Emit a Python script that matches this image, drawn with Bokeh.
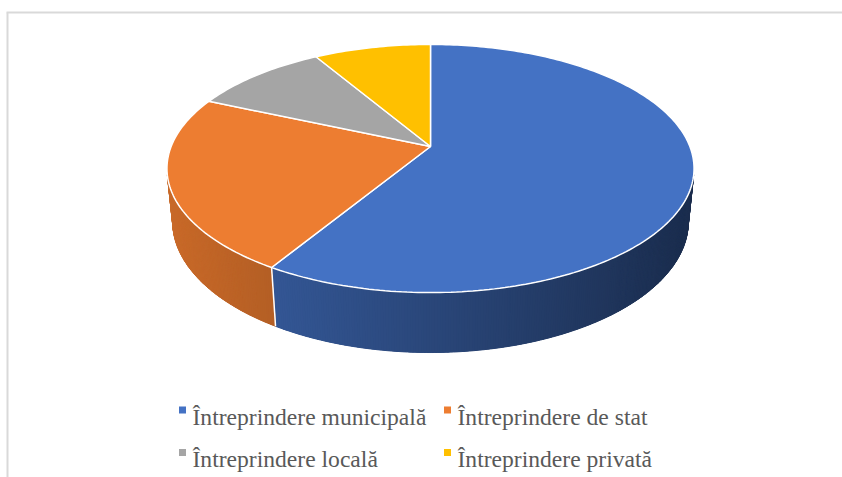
import numpy as np
from bokeh.plotting import figure
from bokeh.models import Range1d, ColumnDataSource
from bokeh.embed import file_html
from bokeh.resources import INLINE
from bokeh.core.properties import value

# ---- data ----
categories = ["Întreprindere municipală", "Întreprindere de stat",
              "Întreprindere locală", "Întreprindere privată"]
shares = [58.7, 22.9, 9.9, 8.5]
colors = ["#4472C4", "#ED7D31", "#A5A5A5", "#FFC000"]

W, H = 842, 477

# ---- perspective projection of a 3D disk (pixel space) ----
elev = np.radians(27.6)
S, C = np.sin(elev), np.cos(elev)
D = 4.995
F = 1295.5
HT = 0.234
CX, CY = 430.0, 146.0


def proj(phi, y):
    x3 = np.sin(phi)
    z3 = np.cos(phi)
    depth = D + z3 * C - y * S
    sx = CX + F * x3 / depth
    sy = CY - F * (y * C + z3 * S) / depth
    return sx, sy


def hex2rgb(h):
    h = h.lstrip("#")
    return tuple(int(h[i:i + 2], 16) for i in (0, 2, 4))


def shade(hexcol, f):
    r, g, b = hex2rgb(hexcol)
    return "#%02x%02x%02x" % (int(r * f), int(g * f), int(b * f))


total = float(sum(shares))
cum = np.concatenate([[0.0], np.cumsum(shares)]) / total * 2 * np.pi

p = figure(width=W, height=H, x_range=Range1d(0, W), y_range=Range1d(H, 0),
           output_backend="svg", toolbar_location=None, min_border=0)
p.axis.visible = False
p.grid.visible = False
p.outline_line_color = None
p.background_fill_color = "white"
p.border_fill_color = "white"

# chart-area frame
p.line([7, 7], [H, 12], line_color="#d9d9d9", line_width=2)
p.line([6, W], [12, 12], line_color="#d9d9d9", line_width=2)

# ---- side walls ----
phi_v0 = np.arccos(-1.0 / (D * C))
phi_v1 = 2 * np.pi - phi_v0
sx_l, sx_r = 166.0, 693.0
base_xs, base_ys, base_cols = [], [], []
side_xs, side_ys, side_cols = [], [], []
for i in range(len(shares)):
    a0 = max(cum[i], phi_v0)
    a1 = min(cum[i + 1], phi_v1)
    if a1 <= a0:
        continue
    n = max(2, int(np.degrees(a1 - a0) / 0.5))
    ph = np.linspace(a0, a1, n + 1)
    txs, tys = proj(ph, 0.0)
    bxs, bys = proj(ph, -HT)
    fm = 0.85 - 0.45 * (np.mean(txs) - sx_l) / (sx_r - sx_l)
    base_xs.append(list(txs) + list(bxs[::-1]))
    base_ys.append(list(tys) + list(bys[::-1]))
    base_cols.append(shade(colors[i], fm))
    for k in range(n):
        xm = 0.5 * (txs[k] + txs[k + 1])
        f = 0.85 - 0.45 * (xm - sx_l) / (sx_r - sx_l)
        col = shade(colors[i], f)
        side_xs.append([txs[k], txs[k + 1], bxs[k + 1], bxs[k]])
        side_ys.append([tys[k], tys[k + 1], bys[k + 1], bys[k]])
        side_cols.append(col)

p.patches(xs="xs", ys="ys", fill_color="c", line_color=None,
          source=ColumnDataSource(dict(xs=base_xs, ys=base_ys, c=base_cols)))
p.patches(xs="xs", ys="ys", fill_color="c", line_color="c", line_width=1.0,
          source=ColumnDataSource(dict(xs=side_xs, ys=side_ys, c=side_cols)))

# white edges on side at slice boundaries
for i in range(1, len(shares)):
    a = cum[i]
    if phi_v0 < a < phi_v1:
        tx0, ty0 = proj(a, 0.0)
        bx0, by0 = proj(a, -HT)
        p.line([tx0, bx0], [ty0, by0], line_color="white", line_width=1.5)

# ---- top faces ----
top_xs, top_ys = [], []
for i in range(len(shares)):
    a0, a1 = cum[i], cum[i + 1]
    n = max(4, int(np.degrees(a1 - a0)))
    ph = np.linspace(a0, a1, n + 1)
    ax, ay = proj(ph, 0.0)
    top_xs.append([CX] + list(ax))
    top_ys.append([CY] + list(ay))

p.patches(xs="xs", ys="ys", fill_color="c", line_color="white", line_width=1.5,
          source=ColumnDataSource(dict(xs=top_xs, ys=top_ys, c=colors)))

# ---- legend ----
col_x = [182, 447]
row_y = [409.5, 452]
lx, ly, tx, ty = [], [], [], []
for i, cat in enumerate(categories):
    r, c = divmod(i, 2)
    lx.append(col_x[c])
    ly.append(row_y[r])
    tx.append(col_x[c] + 10)
    ty.append(row_y[r] + 6.5)

p.scatter(lx, ly, marker="square", size=7, fill_color=colors, line_color=None)
p.text(tx, ty, text=categories,
       text_font=value("Liberation Serif"),
       text_font_size="23.6px", text_color="#595959", text_baseline="alphabetic",
       text_align="left")

open("out.html", "w").write(file_html(p, INLINE))
